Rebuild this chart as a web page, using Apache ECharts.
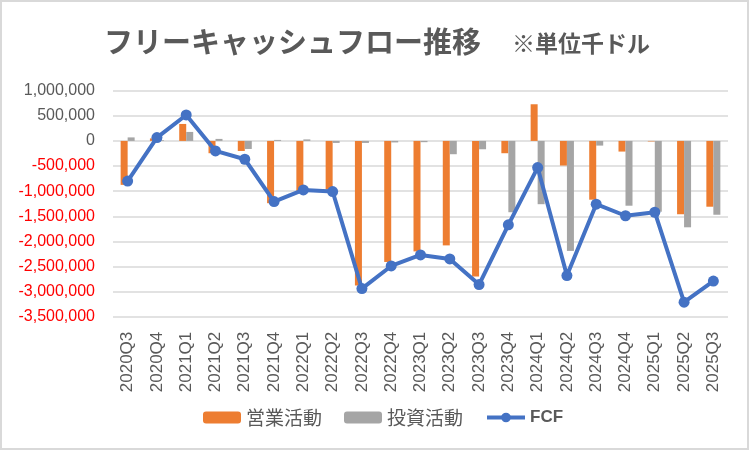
<!DOCTYPE html>
<html>
<head>
<meta charset="utf-8">
<script src="https://cdn.jsdelivr.net/npm/echarts@6/dist/echarts.min.js"></script>
<style>
html,body{margin:0;padding:0;background:#fff;}
#main{width:752px;height:452px;}
</style>
</head>
<body>
<div id="main"></div>
<script>
var categories = ['2020Q3','2020Q4','2021Q1','2021Q2','2021Q3','2021Q4','2022Q1','2022Q2','2022Q3','2022Q4','2023Q1','2023Q2','2023Q3','2023Q4','2024Q1','2024Q2','2024Q3','2024Q4','2025Q1','2025Q2','2025Q3'];
var operating = [-875000, 50000, 338000, -245000, -200000, -1240000, -1000000, -970000, -2880000, -2410000, -2200000, -2080000, -2700000, -245000, 730000, -490000, -1170000, -212000, -10000, -1460000, -1310000];
var investing = [70000, 15000, 179000, 40000, -160000, 20000, 30000, -40000, -40000, -30000, -25000, -265000, -166000, -1420000, -1260000, -2190000, -93000, -1290000, -1410000, -1720000, -1470000];
var fcf = [-800000, 66000, 517000, -199000, -365000, -1207000, -975000, -1008000, -2940000, -2490000, -2270000, -2350000, -2860000, -1670000, -530000, -2680000, -1260000, -1490000, -1420000, -3210000, -2790000];
var seriesNames = ['営業活動', '投資活動', 'FCF'];
var titleMain = 'フリーキャッシュフロー推移';
var titleUnit = '※単位千ドル';

var chart = echarts.init(document.getElementById('main'));
var numFont = '"Liberation Sans", Arial, sans-serif';
var cjkFont = '"Noto Sans CJK JP", sans-serif';
chart.setOption({
  animation: false,
  backgroundColor: '#ffffff',
  graphic: [
    {type: 'rect', shape: {x: 1, y: 1, width: 747, height: 448}, style: {fill: 'none', stroke: '#d9d9d9', lineWidth: 2}, silent: true},
    {type: 'text', x: 104, y: 42, style: {text: titleMain, font: 'bold 29px ' + cjkFont, fill: '#595959', verticalAlign: 'middle'}},
    {type: 'text', x: 512, y: 43, style: {text: titleUnit, font: 'bold 23px ' + cjkFont, fill: '#595959', verticalAlign: 'middle'}}
  ],
  grid: {left: 113, right: 24, top: 90.7, bottom: 135.3, containLabel: false},
  legend: {
    data: [
      {name: seriesNames[0]},
      {name: seriesNames[1]},
      {name: seriesNames[2], lineStyle: {width: 4, color: '#4472C4'}, itemStyle: {color: '#4472C4'}, textStyle: {fontWeight: 'bold', fontFamily: numFont, fontSize: 17}}
    ],
    bottom: 20,
    left: 198,
    itemWidth: 38,
    itemHeight: 12,
    itemGap: 22,
    textStyle: {fontFamily: cjkFont, fontSize: 19, color: '#595959'}
  },
  xAxis: {
    type: 'category',
    data: categories,
    axisLine: {show: false},
    axisTick: {show: false},
    axisLabel: {rotate: 90, margin: 15, fontSize: 17, fontFamily: numFont, color: '#595959', interval: 0}
  },
  yAxis: {
    type: 'value',
    min: -3500000,
    max: 1000000,
    interval: 500000,
    axisLine: {show: false},
    axisTick: {show: false},
    splitLine: {lineStyle: {color: '#d9d9d9', width: 1.5}},
    axisLabel: {
      margin: 18,
      formatter: function (v) {
        var s = Math.abs(v).toLocaleString('en-US');
        return v < 0 ? '{neg|-' + s + '}' : '{pos|' + s + '}';
      },
      rich: {
        neg: {color: '#ff0000', fontSize: 16, fontFamily: numFont},
        pos: {color: '#595959', fontSize: 16, fontFamily: numFont}
      }
    }
  },
  series: [
    {name: seriesNames[0], type: 'bar', data: operating, barWidth: 7, barGap: '0%', itemStyle: {color: '#ED7D31'}, z: 2},
    {name: seriesNames[1], type: 'bar', data: investing, barWidth: 7, barGap: '0%', itemStyle: {color: '#A5A5A5'}, z: 2},
    {name: seriesNames[2], type: 'line', data: fcf, symbol: 'circle', symbolSize: 11, lineStyle: {color: '#4472C4', width: 4}, itemStyle: {color: '#4472C4'}, z: 5}
  ]
});
</script>
</body>
</html>
